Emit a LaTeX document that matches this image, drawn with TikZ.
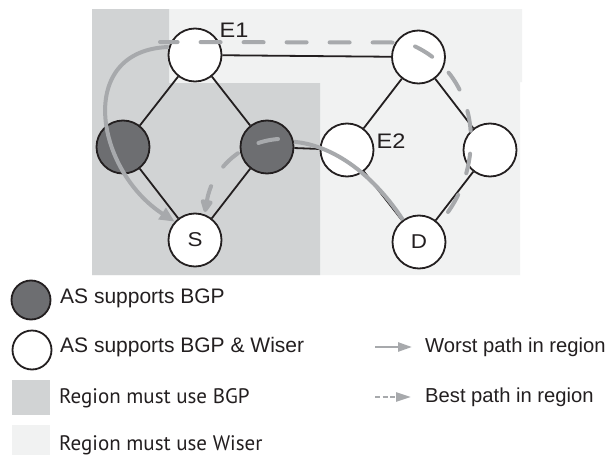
\documentclass[tikz,border=0pt]{standalone}
\usepackage{fontspec}
\setmainfont{Liberation Sans}
\newfontfamily\widefont{Liberation Sans}[FakeStretch=1.12]
\newfontfamily\regfont{PT Sans}
\usetikzlibrary{arrows.meta}
\definecolor{bgpreg}{HTML}{D1D3D4}
\definecolor{wisreg}{HTML}{F1F2F2}
\definecolor{bgpnode}{HTML}{6D6E71}
\definecolor{ink}{HTML}{231F20}
\definecolor{pathgray}{HTML}{A7A9AC}
\begin{document}
\begin{tikzpicture}[x=1pt,y=-1pt,
  asw/.style={circle,draw=ink,line width=1.8pt,fill=white,minimum size=53pt,inner sep=0pt,text=ink,font=\widefont\fontsize{20}{20}\selectfont},
  asb/.style={asw,fill=bgpnode},
  link/.style={draw=ink,line width=1.8pt},
  worstline/.style={draw=pathgray,line width=4pt},
  worst/.style={worstline,-{Triangle[length=15pt,width=13pt]}},
  bestline/.style={draw=pathgray,line width=4pt,line cap=round,dash pattern=on 20pt off 23pt},
  best/.style={bestline,-{Triangle[length=15pt,width=13pt,round=false]}},
  lab/.style={inner sep=0pt,text=ink,font=\widefont\fontsize{21}{21}\selectfont},
  legtext/.style={anchor=west,inner sep=0pt,text=ink,font=\fontsize{21}{21}\selectfont},
  pathtext/.style={anchor=west,inner sep=0pt,text=ink,font=\fontsize{20.2}{20.2}\selectfont},
  regtext/.style={anchor=west,inner sep=0pt,text=ink,font=\regfont\fontsize{21}{21}\selectfont},
  legcirc/.style={circle,draw=ink,line width=1.8pt,minimum size=39pt,inner sep=0pt}
]
\useasboundingbox (0,0) rectangle (608,455);
\fill[white] (0,0) rectangle (608,455);
% regions
\fill[wisreg] (92,9) -- (522,9) -- (522,82) -- (520,82) -- (520,275) -- (92,275) -- cycle;
\fill[bgpreg] (92,9) -- (169,9) -- (169,83) -- (320,83) -- (320,275) -- (92,275) -- cycle;
% nodes
\node[asw] (e1) at (195,55) {};
\node[asb] (ld) at (123,147) {};
\node[asb] (rd) at (267,147) {};
\node[asw] (s) at (195,240) {S};
\node[asw] (e2) at (347,150) {};
\node[asw] (tr) at (418.5,57) {};
\node[asw] (rt) at (490,150) {};
\node[asw] (d) at (419,242) {D};
% links
\draw[link] (e1) -- (ld);
\draw[link] (e1) -- (rd);
\draw[link] (ld) -- (s);
\draw[link] (rd) -- (s);
\draw[link] (rd) -- (e2);
\draw[link] (e1) -- (tr);
\draw[link] (tr) -- (e2);
\draw[link] (tr) -- (rt);
\draw[link] (e2) -- (d);
\draw[link] (rt) -- (d);
% labels
\node[lab] (e1lab) at (234,30) {E1};
\node[lab] (e2lab) at (391,141) {E2};
% worst path
\draw[worst] (e1.163) .. controls (75,50) and (95,170) .. (s.138);
\draw[worstline] (rd.11) .. controls (330,145) and (370,170) .. (d.126);
% best path
\coordinate (b0) at (448,212);
\coordinate (b1) at (412,45);
\coordinate (b2) at (392,42.5);
\coordinate (b3) at (160,42);
\draw[bestline] (b0) .. controls (485,160) and (480,75) .. (b1) .. controls (404,43) .. (b2) -- (b3);
\coordinate (c0) at (278,139);
\coordinate (c1) at (205,212);
\draw[best] (c0) .. controls (240,142) and (212,170) .. (c1);
% legend
\node[legcirc,fill=bgpnode] (lb) at (31,300) {};
\node[legcirc,fill=white] (lw) at (32,350) {};
\fill[bgpreg] (12,380) rectangle (50,415);
\fill[wisreg] (12,425) rectangle (50,455);
\node[legtext] (t1) at (60,298) {AS supports BGP};
\node[legtext] (t2) at (60,347) {AS supports BGP \& Wiser};
\node[regtext] (t3) at (59,398) {Region must use BGP};
\node[regtext] (t4) at (59,445) {Region must use Wiser};
\node[pathtext] (t5) at (425,347) {Worst path in region};
\node[pathtext] (t6) at (425,397) {Best path in region};
\coordinate (w0) at (375,347);
\coordinate (w1) at (412,347);
\draw[draw=pathgray,line width=2.5pt,-{Triangle[length=14pt,width=9pt]}] (w0) -- (w1);
\coordinate (bb0) at (375,397);
\coordinate (bb1) at (411,397);
\draw[draw=pathgray,line width=2.5pt,dash pattern=on 5pt off 2.5pt,-{Triangle[length=15pt,width=9pt]}] (bb0) -- (bb1);
\end{tikzpicture}
\end{document}
